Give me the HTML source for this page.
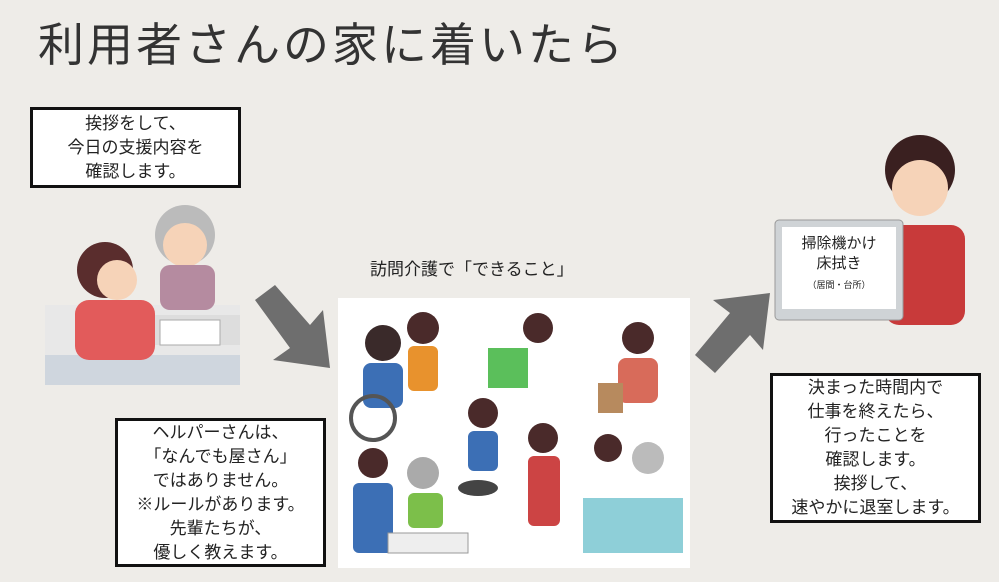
<!DOCTYPE html>
<html><head><meta charset="utf-8"><style>
body{margin:0;width:999px;height:582px;background:#eeece8;position:relative;overflow:hidden;font-family:"Liberation Sans","Noto Sans CJK JP",sans-serif;color:#222}
.a{position:absolute}
.box{position:absolute;background:#fff;border:3px solid #111;box-sizing:border-box;text-align:center;font-size:17px;line-height:24px;display:flex;align-items:center;justify-content:center}
</style></head><body>
<div class="a" style="left:38px;top:15px;font-size:46px;line-height:60px;color:#333;letter-spacing:3px">利用者さんの家に着いたら</div>
<div class="box" style="left:30px;top:107px;width:211px;height:81px">挨拶をして、<br>今日の支援内容を<br>確認します。</div>
<svg class="a" style="left:35px;top:195px" width="215" height="195">
<rect x="10" y="110" width="195" height="80" fill="#e8e8e8"/>
<rect x="60" y="120" width="145" height="30" fill="#ddd"/>
<rect x="10" y="160" width="195" height="30" fill="#cfd6de"/>
<circle cx="150" cy="40" r="30" fill="#bbb"/><circle cx="150" cy="50" r="22" fill="#f6d3b8"/>
<rect x="125" y="70" width="55" height="45" rx="10" fill="#b58ba0"/>
<circle cx="70" cy="75" r="28" fill="#5a2d2d"/><circle cx="82" cy="85" r="20" fill="#f6d3b8"/>
<rect x="40" y="105" width="80" height="60" rx="14" fill="#e25b5b"/>
<rect x="125" y="125" width="60" height="25" fill="#fff" stroke="#aaa"/>
</svg>
<svg class="a" style="left:245px;top:280px" width="100" height="100"><path d="M10 20 L30 5 L65 45 L78 30 L85 88 L28 80 L45 68 Z" fill="#6e6e6e"/></svg>
<svg class="a" style="left:685px;top:285px" width="100" height="100"><path d="M10 70 L30 88 L65 50 L78 65 L85 8 L28 15 L45 28 Z" fill="#6e6e6e"/></svg>
<div class="a" style="left:370px;top:258px;font-size:17px;line-height:24px">訪問介護で「できること」</div>
<div class="a" style="left:338px;top:298px;width:352px;height:270px;background:#fff"></div>
<svg class="a" style="left:338px;top:298px" width="352" height="270">
<circle cx="45" cy="45" r="18" fill="#3a2a2a"/><rect x="25" y="65" width="40" height="45" rx="8" fill="#3c6fb5"/><circle cx="35" cy="120" r="22" fill="none" stroke="#555" stroke-width="4"/>
<circle cx="85" cy="30" r="16" fill="#4a2a2a"/><rect x="70" y="48" width="30" height="45" rx="6" fill="#e8922d"/>
<rect x="150" y="50" width="40" height="40" fill="#5bbf5b"/><circle cx="200" cy="30" r="15" fill="#4a2a2a"/>
<circle cx="300" cy="40" r="16" fill="#4a2a2a"/><rect x="280" y="60" width="40" height="45" rx="8" fill="#d86b5a"/><rect x="260" y="85" width="25" height="30" fill="#b78a5e"/>
<circle cx="145" cy="115" r="15" fill="#4a2a2a"/><rect x="130" y="133" width="30" height="40" rx="6" fill="#3c6fb5"/><ellipse cx="140" cy="190" rx="20" ry="8" fill="#444"/>
<circle cx="205" cy="140" r="15" fill="#4a2a2a"/><rect x="190" y="158" width="32" height="70" rx="6" fill="#c44"/>
<circle cx="35" cy="165" r="15" fill="#4a2a2a"/><rect x="15" y="185" width="40" height="70" rx="6" fill="#3c6fb5"/>
<circle cx="85" cy="175" r="16" fill="#aaa"/><rect x="70" y="195" width="35" height="35" rx="6" fill="#7cbf4a"/><rect x="50" y="235" width="80" height="20" fill="#eee" stroke="#999"/>
<circle cx="270" cy="150" r="14" fill="#4a2a2a"/><circle cx="310" cy="160" r="16" fill="#bbb"/><rect x="245" y="200" width="100" height="55" fill="#8ecfd8"/>
</svg>
<div class="box" style="left:115px;top:418px;width:211px;height:149px">ヘルパーさんは、<br>「なんでも屋さん」<br>ではありません。<br>※ルールがあります。<br>先輩たちが、<br>優しく教えます。</div>
<svg class="a" style="left:770px;top:130px" width="215" height="200">
<circle cx="150" cy="40" r="35" fill="#3a2020"/><circle cx="150" cy="58" r="28" fill="#f6d3b8"/>
<rect x="115" y="95" width="80" height="100" rx="14" fill="#c83a3a"/>
<rect x="5" y="90" width="128" height="100" rx="4" fill="#cfd3d6" stroke="#999"/>
<rect x="12" y="97" width="114" height="82" fill="#fff"/>
</svg>
<div class="a" style="left:782px;top:234px;width:114px;text-align:center;font-size:15px;line-height:20px">掃除機かけ<br>床拭き<br><span style="font-size:9px;line-height:14px">（居間・台所）</span></div>
<div class="box" style="left:770px;top:373px;width:211px;height:150px">決まった時間内で<br>仕事を終えたら、<br>行ったことを<br>確認します。<br>挨拶して、<br>速やかに退室します。</div>
</body></html>
